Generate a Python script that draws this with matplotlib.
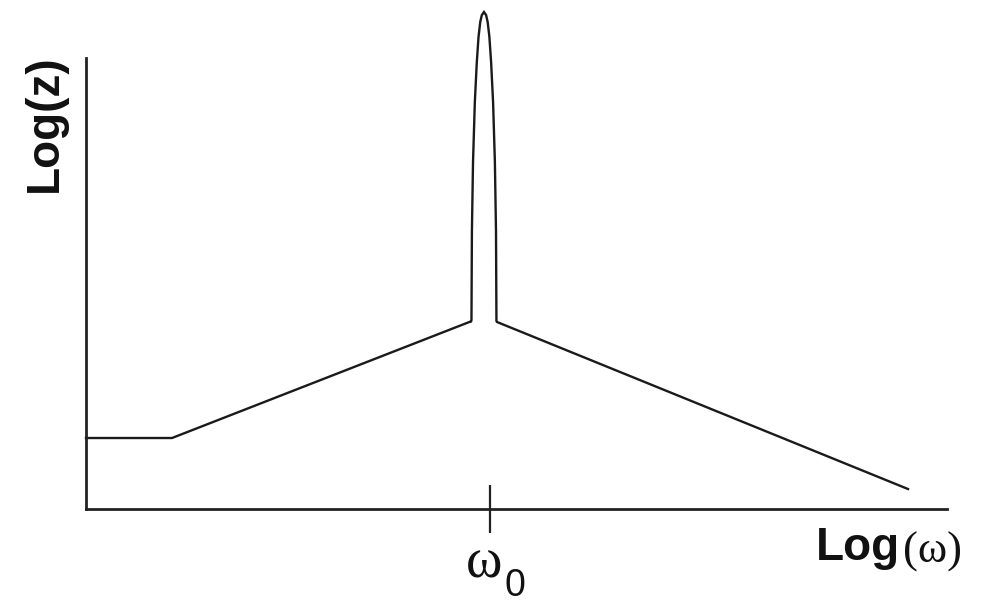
import matplotlib.pyplot as plt
import matplotlib.transforms as mtransforms

W, H = 982, 603

# asymptotes of log|Z| vs log(omega)
flat_x = [0.0, 0.999]
flat_y = [1.574, 1.574]
rise_x = [0.999, 4.483]
rise_y = [1.574, 4.169]
fall_x = [4.774, 9.547]
fall_y = [4.146, 0.443]

# resonance spike: height and half-width around omega_0
w0 = 4.622
tick_w0 = 4.69
peak_y = [4.169, 6.14, 7.69, 9.02, 9.91, 10.47, 10.80, 10.95, 11.02]
peak_hw = [0.145, 0.140, 0.127, 0.106, 0.083, 0.063, 0.043, 0.025, 0.0]

fig = plt.figure(figsize=(W / 100, H / 100), dpi=100)
ax = fig.add_axes([86 / W, (H - 509) / H, (947 - 86) / W, (509 - 58) / H])
ax.set_xlim(0, 10)
ax.set_ylim(0, 10)

lc = '#1a1a1a'
lw = 1.7

# build the full trace: flat, rising slope, spike, falling slope
px = flat_x + rise_x[1:]
py = flat_y + rise_y[1:]
px += [w0 - h for h in peak_hw]
py += peak_y
px += [w0 + h for h in peak_hw[::-1][1:]]
py += peak_y[::-1][1:]
px += fall_x
py += fall_y
ax.plot(px, py, color=lc, lw=lw, clip_on=False, solid_joinstyle='miter')

for s in ['top', 'right']:
    ax.spines[s].set_visible(False)
for s in ['left', 'bottom']:
    ax.spines[s].set_linewidth(2.0)
    ax.spines[s].set_color('#222222')

ax.set_yticks([])
ax.set_xticks([tick_w0])
ax.set_xticklabels([''])
ax.tick_params(axis='x', direction='inout', length=34, width=1.6, color='#222222')

# axis labels
fig.text(45 / W, 1 - 123 / H, 'Log(z)', rotation=90, ha='center', va='center',
         fontsize=33, fontweight='bold', family='Liberation Sans', color='#111111')
fig.text(816 / W, 1 - 560 / H, 'Log', ha='left', va='baseline',
         fontsize=33, fontweight='bold', family='Liberation Sans', color='#111111')
fig.text(903 / W, 1 - 563 / H, '(ω)', ha='left', va='baseline',
         fontsize=32, family='Liberation Serif', color='#111111')

# omega_0 under the tick
trans = mtransforms.blended_transform_factory(ax.transData, fig.transFigure)
ax.text(tick_w0 - 0.07, 1 - 577 / H, 'ω', transform=trans, ha='center', va='baseline',
        fontsize=40, family='Liberation Serif', color='#111111')
fig.text(504 / W, 1 - 596 / H, '0', ha='left', va='baseline',
         fontsize=27, family='Liberation Sans', color='#111111')

fig.savefig('out.png', dpi=100)
